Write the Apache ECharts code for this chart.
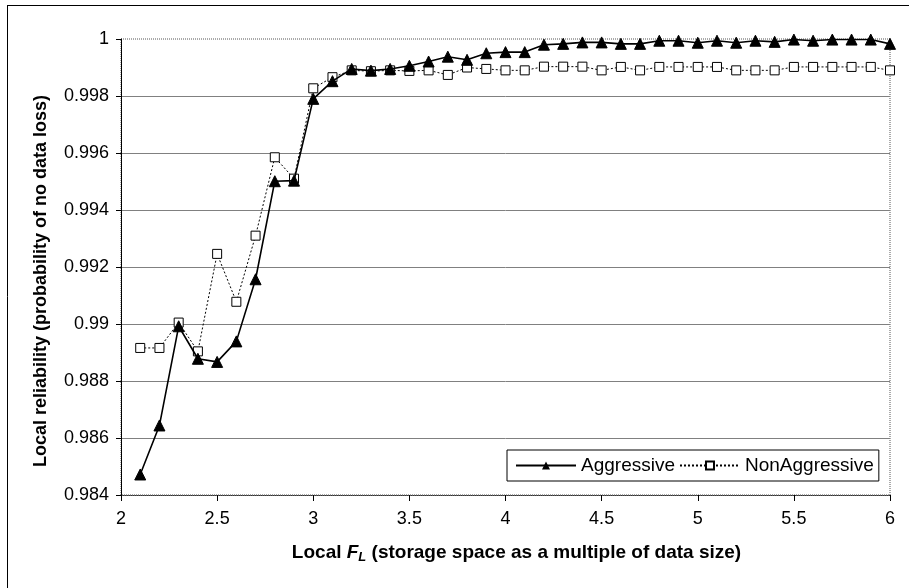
<!DOCTYPE html>
<html>
<head>
<meta charset="utf-8">
<script src="https://cdn.jsdelivr.net/npm/echarts@6/dist/echarts.min.js"></script>
<style>
html,body{margin:0;padding:0;background:#fff;}
#chart{width:909px;height:588px;}
</style>
</head>
<body>
<div id="chart"></div>
<script>
var xValues = [2.1,2.2,2.3,2.4,2.5,2.6,2.7,2.8,2.9,3.0,3.1,3.2,3.3,3.4,3.5,3.6,3.7,3.8,3.9,4.0,
               4.1,4.2,4.3,4.4,4.5,4.6,4.7,4.8,4.9,5.0,5.1,5.2,5.3,5.4,5.5,5.6,5.7,5.8,5.9,6.0];
var aggressive = [0.98472,0.98644,0.98992,0.98878,0.98867,0.98939,0.99157,0.99501,0.99503,0.99790,
                  0.99852,0.99895,0.99889,0.99895,0.99906,0.99921,0.99938,0.99927,0.99950,0.99954,
                  0.99954,0.99980,0.99983,0.99988,0.99988,0.99983,0.99983,0.99994,0.99994,0.99987,
                  0.99994,0.99987,0.99994,0.99990,0.99998,0.99994,0.99998,0.99998,0.99998,0.99983];
var nonAggressive = [0.98916,0.98916,0.99005,0.98904,0.99246,0.99078,0.99310,0.99585,0.99510,0.99827,
                     0.99866,0.99890,0.99887,0.99890,0.99888,0.99890,0.99874,0.99900,0.99895,0.99890,
                     0.99890,0.99903,0.99903,0.99903,0.99890,0.99902,0.99890,0.99902,0.99902,0.99902,
                     0.99902,0.99890,0.99890,0.99890,0.99902,0.99902,0.99902,0.99902,0.99902,0.99890];
var seriesNames = ['Aggressive','NonAggressive'];
var xTitle = 'Local {it|F}{sub|L} (storage space as a multiple of data size)';
var yTitle = 'Local reliability (probability of no data loss)';

function pairs(ys){ return xValues.map(function(x,i){ return [x, ys[i]]; }); }

var FONT = '"Liberation Sans", Arial, sans-serif';
var chart = echarts.init(document.getElementById('chart'), null, {renderer:'canvas'});
chart.setOption({
  animation:false,
  backgroundColor:'#ffffff',
  textStyle:{fontFamily:FONT, color:'#000'},
  grid:{left:121, right:19, top:39, bottom:93, show:true, borderColor:'#555', borderWidth:1, borderType:'dotted', backgroundColor:'transparent'},
  graphic:[
    {type:'line', shape:{x1:7.5,y1:5,x2:7.5,y2:588}, style:{stroke:'#000', lineWidth:1}},
    {type:'line', shape:{x1:7,y1:5.5,x2:909,y2:5.5}, style:{stroke:'#000', lineWidth:1}}
  ],
  legend:{
    left:507, top:450, padding:[6,5,6,8], itemGap:4,
    backgroundColor:'#fff', borderColor:'#000', borderWidth:1, borderRadius:0,
    itemWidth:60, itemHeight:10,
    textStyle:{fontFamily:FONT, fontSize:19, color:'#000'},
    data:seriesNames
  },
  xAxis:{
    type:'value', min:2, max:6, interval:0.5,
    axisLine:{show:true, onZero:false, lineStyle:{color:'#333', type:'dotted', width:1}},
    axisTick:{show:true, length:6, lineStyle:{color:'#000'}},
    axisLabel:{fontFamily:FONT, fontSize:18, color:'#000', margin:15},
    splitLine:{show:false},
    name:xTitle, nameLocation:'middle', nameGap:47,
    nameTextStyle:{fontFamily:FONT, fontSize:19, fontWeight:'bold', color:'#000', padding:[0,0,0,22],
      rich:{
        it:{fontFamily:FONT, fontSize:19, fontWeight:'bold', fontStyle:'italic', color:'#000'},
        sub:{fontFamily:FONT, fontSize:13, fontWeight:'bold', fontStyle:'italic', color:'#000', padding:[9,0,0,0]}
      }}
  },
  yAxis:{
    type:'value', min:0.984, max:1, interval:0.002,
    axisLine:{show:true, onZero:false, lineStyle:{color:'#000', width:1}},
    axisTick:{show:true, length:5, lineStyle:{color:'#000'}},
    axisLabel:{fontFamily:FONT, fontSize:18, color:'#000', margin:12,
      formatter:function(v){ return +v.toFixed(3) + ''; }},
    splitLine:{show:true, showMinLine:false, showMaxLine:false, lineStyle:{color:'#808080', width:1}},
    name:yTitle, nameLocation:'middle', nameGap:71, nameRotate:90,
    nameTextStyle:{fontFamily:FONT, fontSize:18, fontWeight:'bold', color:'#000', padding:[0,28,0,0]}
  },
  series:[
    {
      name:seriesNames[0], type:'line', data:pairs(aggressive),
      symbol:'triangle', symbolSize:11,
      itemStyle:{color:'#000', borderColor:'#000'},
      lineStyle:{color:'#000', width:1.6, type:'solid'},
      z:3
    },
    {
      name:seriesNames[1], type:'line', data:pairs(nonAggressive),
      symbol:'rect', symbolSize:9,
      itemStyle:{color:'#fff', borderColor:'#000', borderWidth:1},
      lineStyle:{color:'#000', width:1, type:[2,2]},
      z:2
    }
  ]
});
</script>
</body>
</html>
